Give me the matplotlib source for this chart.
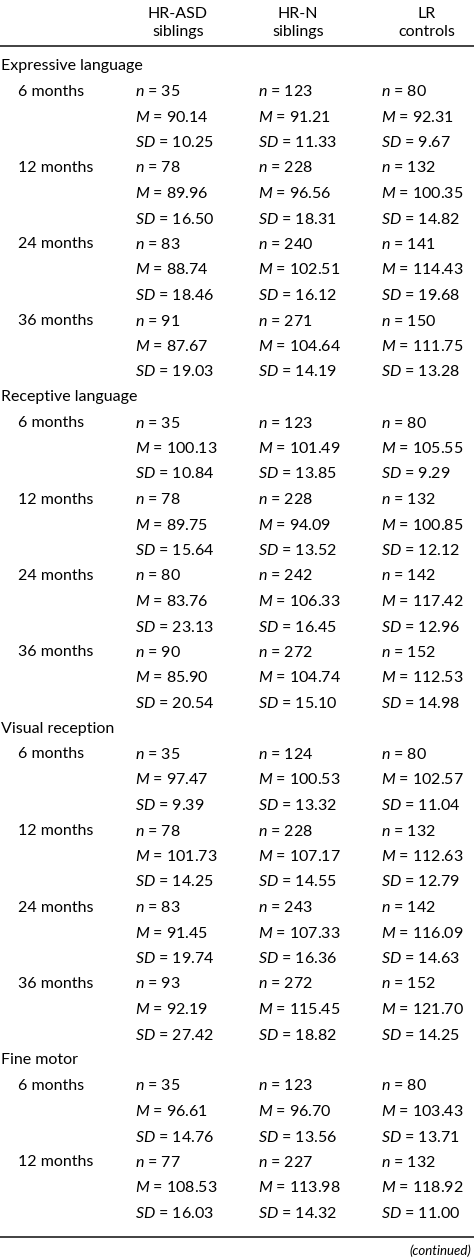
import matplotlib.pyplot as plt

plt.rcParams['font.family'] = 'Lato'
plt.rcParams['mathtext.fontset'] = 'custom'
plt.rcParams['mathtext.it'] = 'Lato:italic'
plt.rcParams['mathtext.rm'] = 'Lato'

groups = ['HR-ASD\nsiblings', 'HR-N\nsiblings', 'LR\ncontrols']
sections = ['Expressive language', 'Receptive language', 'Visual reception', 'Fine motor']
ages = ['6 months', '12 months', '24 months', '36 months']

# per section: list of ages, each [n, M, SD] for HR-ASD, HR-N, LR
n_vals = [
    [[35, 123, 80], [78, 228, 132], [83, 240, 141], [91, 271, 150]],
    [[35, 123, 80], [78, 228, 132], [80, 242, 142], [90, 272, 152]],
    [[35, 124, 80], [78, 228, 132], [83, 243, 142], [93, 272, 152]],
    [[35, 123, 80], [77, 227, 132]],
]
m_vals = [
    [['90.14', '91.21', '92.31'], ['89.96', '96.56', '100.35'], ['88.74', '102.51', '114.43'], ['87.67', '104.64', '111.75']],
    [['100.13', '101.49', '105.55'], ['89.75', '94.09', '100.85'], ['83.76', '106.33', '117.42'], ['85.90', '104.74', '112.53']],
    [['97.47', '100.53', '102.57'], ['101.73', '107.17', '112.63'], ['91.45', '107.33', '116.09'], ['92.19', '115.45', '121.70']],
    [['96.61', '96.70', '103.43'], ['108.53', '113.98', '118.92']],
]
sd_vals = [
    [['10.25', '11.33', '9.67'], ['16.50', '18.31', '14.82'], ['18.46', '16.12', '19.68'], ['19.03', '14.19', '13.28']],
    [['10.84', '13.85', '9.29'], ['15.64', '13.52', '12.12'], ['23.13', '16.45', '12.96'], ['20.54', '15.10', '14.98']],
    [['9.39', '13.32', '11.04'], ['14.25', '14.55', '12.79'], ['19.74', '16.36', '14.63'], ['27.42', '18.82', '14.25']],
    [['14.76', '13.56', '13.71'], ['16.03', '14.32', '11.00']],
]

W, H = 474, 1260
fig = plt.figure(figsize=(W / 100, H / 100), dpi=100)
ax = fig.add_axes([0, 0, 1, 1])
ax.set_xlim(0, W)
ax.set_ylim(H, 0)
ax.axis('off')

fs = 11.5
col_x = [135, 258, 381]
head_x = [178, 298, 427]
for x, g in zip(head_x, groups):
    ax.text(x, 23, g, ha='center', va='center', fontsize=fs, linespacing=1.45)

ax.plot([0, W], [46, 46], color='#333333', lw=1.3)

y = 66
step = 25.5
for s, sec in enumerate(sections):
    ax.text(1, y, sec, va='center', fontsize=fs)
    y += step
    for a in range(len(n_vals[s])):
        ax.text(18, y, ages[a], va='center', fontsize=fs)
        for c in range(3):
            ax.text(col_x[c], y, r'$n$ = %d' % n_vals[s][a][c], va='center', fontsize=fs)
            ax.text(col_x[c], y + step, r'$M$ = ' + m_vals[s][a][c], va='center', fontsize=fs)
            ax.text(col_x[c], y + 2 * step, r'$SD$ = ' + sd_vals[s][a][c], va='center', fontsize=fs)
        y += 3 * step

ax.plot([0, W], [1237, 1237], color='#333333', lw=1.3)
ax.text(471, 1251, '(continued)', ha='right', va='center', fontsize=9.5, style='italic')

fig.savefig('out.png', dpi=100)
